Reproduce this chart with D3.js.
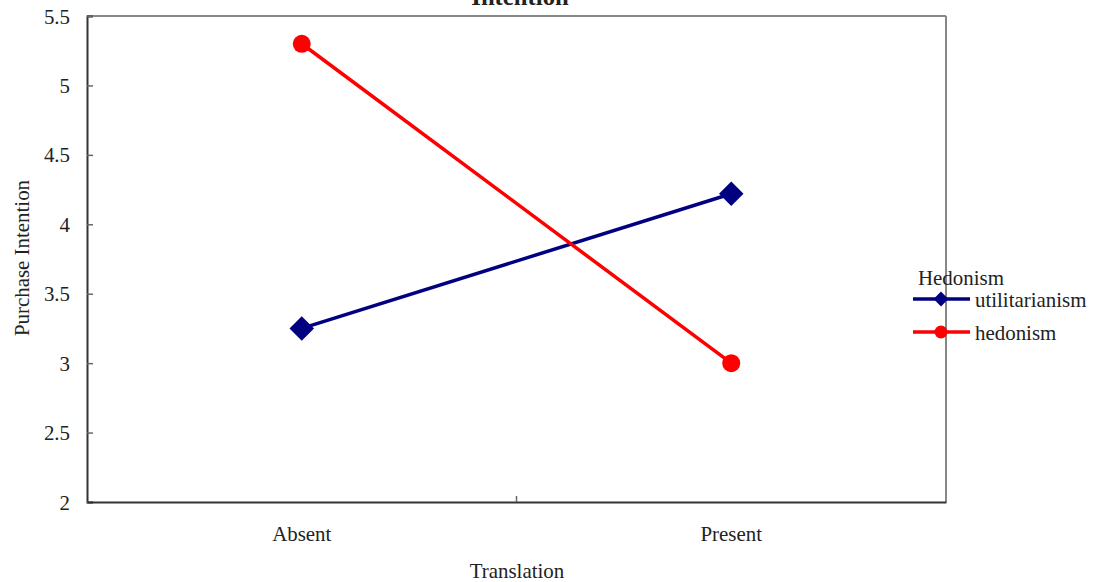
<!DOCTYPE html>
<html><head><meta charset="utf-8">
<script src="https://cdn.jsdelivr.net/npm/d3@7"></script>
<style>body{margin:0;background:#fff}svg{display:block}text{font-family:"Liberation Serif","Times New Roman",serif;fill:#222}</style>
</head><body>
<svg id="c" width="1100" height="582"></svg>
<script>
const categories = ["Absent", "Present"];
const seriesNames = ["utilitarianism", "hedonism"];
const utilitarianism = [3.25, 4.22];
const hedonism = [5.30, 3.00];
const yTicks = [2, 2.5, 3, 3.5, 4, 4.5, 5, 5.5];
const colors = ["#000080", "#ff0000"];

const svg = d3.select("#c");
const L = 87, R = 946, T = 16, B = 502;
const FS = 22;
const x = d3.scaleBand().domain(categories).range([L, R]);
const y = d3.scaleLinear().domain([2, 5.5]).range([B, T]);

// frame
svg.append("line").attr("x1", L).attr("x2", R).attr("y1", T).attr("y2", T).attr("stroke", "#888").attr("stroke-width", 2);
svg.append("line").attr("x1", R).attr("x2", R).attr("y1", T).attr("y2", B).attr("stroke", "#888").attr("stroke-width", 2);

const yAx = svg.append("g").attr("transform", `translate(${L},0)`)
  .call(d3.axisLeft(y).tickValues(yTicks).tickSize(-6).tickPadding(17).tickFormat(d3.format("")));
yAx.select(".domain").attr("stroke", "#333").attr("stroke-width", 2);
yAx.selectAll(".tick line").attr("stroke", "#666").attr("stroke-width", 1.5);
yAx.selectAll("text").attr("font-size", FS).attr("font-family", "Liberation Serif").attr("fill", "#222");

const xAx = svg.append("g").attr("transform", `translate(0,${B})`)
  .call(d3.axisBottom(x).tickSize(0).tickPadding(23));
xAx.select(".domain").attr("stroke", "#333").attr("stroke-width", 2);
xAx.selectAll("text").attr("font-size", FS).attr("font-family", "Liberation Serif").attr("fill", "#222");
// middle tick between categories
svg.append("line").attr("x1", x("Present")).attr("x2", x("Present")).attr("y1", B).attr("y2", B - 6).attr("stroke", "#666").attr("stroke-width", 1.5);

const cx = c => x(c) + x.bandwidth() / 2;
const line = d3.line().x((d, i) => cx(categories[i])).y(d => y(d));
const data = [utilitarianism, hedonism];
data.forEach((vals, si) => {
  svg.append("path").attr("d", line(vals)).attr("fill", "none").attr("stroke", colors[si]).attr("stroke-width", 3.5);
  vals.forEach((v, i) => {
    if (si === 0) {
      svg.append("path").attr("d", d3.symbol(d3.symbolSquare, 300)())
        .attr("transform", `translate(${cx(categories[i])},${y(v)}) rotate(45)`).attr("fill", colors[si]);
    } else {
      svg.append("circle").attr("cx", cx(categories[i])).attr("cy", y(v)).attr("r", 9).attr("fill", colors[si]);
    }
  });
});

// axis titles
svg.append("text").attr("x", 517).attr("y", 578).attr("text-anchor", "middle").attr("font-size", FS).text("Translation");
svg.append("text").attr("transform", "translate(29,258) rotate(-90)").attr("text-anchor", "middle").attr("font-size", FS).text("Purchase Intention");
svg.append("text").attr("x", 520).attr("y", 5).attr("text-anchor", "middle").attr("font-size", 26).attr("font-weight", "bold").attr("fill", "#000").text("Intention");

// legend
const lg = svg.append("g");
lg.append("text").attr("x", 918).attr("y", 285).attr("font-size", FS).text("Hedonism");
seriesNames.forEach((n, i) => {
  const yy = 299 + i * 33;
  lg.append("line").attr("x1", 913).attr("x2", 970).attr("y1", yy).attr("y2", yy).attr("stroke", colors[i]).attr("stroke-width", 3.5);
  if (i === 0) lg.append("path").attr("d", d3.symbol(d3.symbolSquare, 110)()).attr("transform", `translate(941,${yy}) rotate(45)`).attr("fill", colors[i]);
  else lg.append("circle").attr("cx", 941).attr("cy", yy).attr("r", 6.5).attr("fill", colors[i]);
  lg.append("text").attr("x", 975).attr("y", yy + 8).attr("font-size", FS).text(n);
});

// condense glyphs horizontally to mimic the narrow serif face of the reference
svg.selectAll("text").each(function () {
  const l = this.getComputedTextLength();
  d3.select(this).attr("textLength", l * 0.95).attr("lengthAdjust", "spacingAndGlyphs");
});
</script>
</body></html>
